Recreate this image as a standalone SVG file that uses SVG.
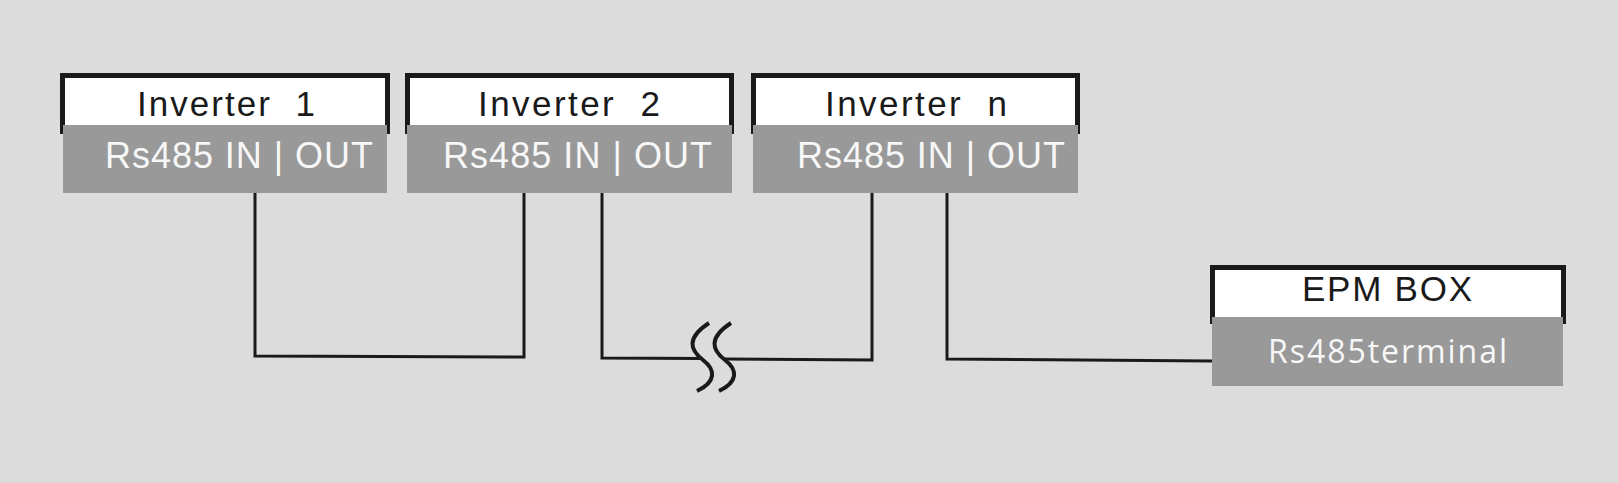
<svg xmlns="http://www.w3.org/2000/svg" width="1618" height="483" viewBox="0 0 1618 483">
<style>
.frame{fill:#ffffff;stroke:#1a1a1a;stroke-width:5}
.port{fill:#999999}
.title{font-family:"Liberation Sans",Arial,sans-serif;font-size:35px;fill:#1a1a1a}
.ptxt{font-family:"Liberation Sans",Arial,sans-serif;font-size:36px;fill:#f7f7f7}
.ttxt{font-family:"Open Sans","Noto Sans",sans-serif;font-size:32px;fill:#f7f7f7}
.wire{fill:none;stroke:#1a1a1a;stroke-width:3;stroke-linejoin:miter}
.brk{fill:none;stroke:#1a1a1a;stroke-width:4;stroke-linecap:butt}
</style>
<rect x="0" y="0" width="1618" height="483" fill="#dcdcdc"/>
<g id="connectors">
<polyline class="wire" points="255,193 255,356 524,357 524,193"/>
<polyline class="wire" points="602,193 602,358 702,358.5"/>
<polyline class="wire" points="725,359 872,360 872,193"/>
<polyline class="wire" points="947,193 947,359 1212,361"/>
<path class="brk" d="M709,323 C686,338 690,350 703,360 C716,370 716,382 697,391"/>
<path class="brk" d="M731,323 C708,338 712,350 725,360 C738,370 738,382 719,391"/>
</g>
<g id="inverter1">
<rect class="frame" x="62.5" y="75.5" width="325" height="56"/>
<rect class="port" x="63" y="125" width="324" height="68"/>
<text class="title" x="137" y="116" textLength="178" lengthAdjust="spacing" xml:space="preserve">Inverter  1</text>
<text class="ptxt" x="105" y="168" textLength="268" lengthAdjust="spacing">Rs485 IN | OUT</text>
</g>
<g id="inverter2">
<rect class="frame" x="407.5" y="75.5" width="324" height="56"/>
<rect class="port" x="407" y="125" width="325" height="68"/>
<text class="title" x="478" y="116" textLength="182" lengthAdjust="spacing" xml:space="preserve">Inverter  2</text>
<text class="ptxt" x="443" y="168" textLength="269" lengthAdjust="spacing">Rs485 IN | OUT</text>
</g>
<g id="invertern">
<rect class="frame" x="753.5" y="75.5" width="324" height="56"/>
<rect class="port" x="753" y="125" width="325" height="68"/>
<text class="title" x="825" y="116" textLength="182" lengthAdjust="spacing" xml:space="preserve">Inverter  n</text>
<text class="ptxt" x="797" y="168" textLength="268" lengthAdjust="spacing">Rs485 IN | OUT</text>
</g>
<g id="epmbox">
<rect class="frame" x="1212.5" y="267.5" width="351" height="54"/>
<rect class="port" x="1212" y="317" width="351" height="69"/>
<text class="title" x="1302" y="301" font-size="34" textLength="170" lengthAdjust="spacing">EPM BOX</text>
<text class="ttxt" x="1268" y="363" textLength="239" lengthAdjust="spacing">Rs485terminal</text>
</g>
</svg>
